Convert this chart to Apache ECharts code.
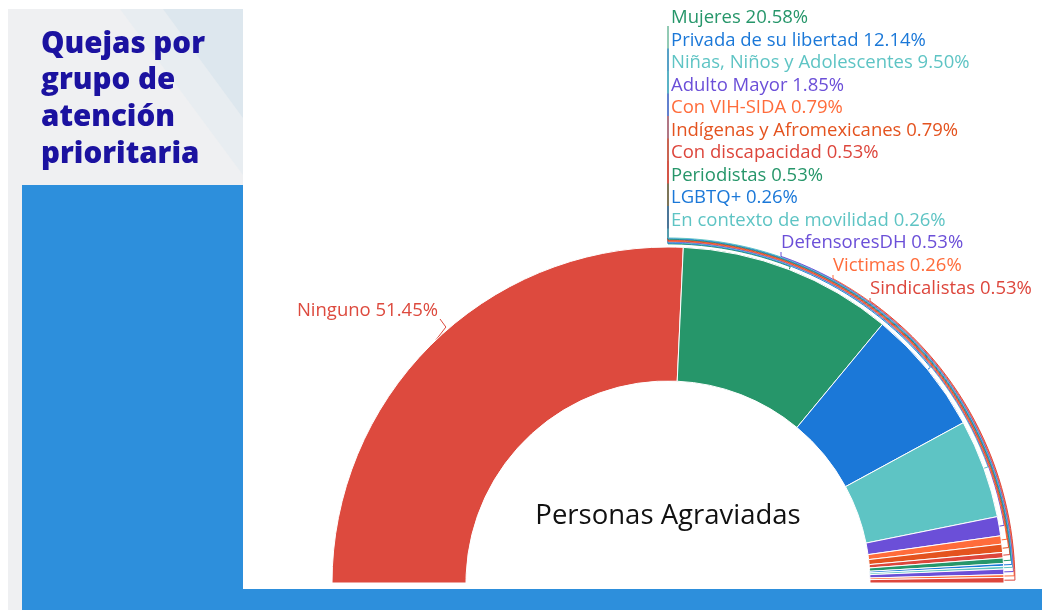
<!DOCTYPE html>
<html>
<head>
<meta charset="utf-8">
<script src="https://cdn.jsdelivr.net/npm/echarts@6/dist/echarts.min.js"></script>
<style>
  html, body { margin: 0; padding: 0; background: #fff; }
  #chart { width: 1042px; height: 610px; }
</style>
</head>
<body>
<div id="chart"></div>
<script>
const categories = [
  'Ninguno', 'Mujeres', 'Privada de su libertad', 'Niñas, Niños y Adolescentes',
  'Adulto Mayor', 'Con VIH-SIDA', 'Indígenas y Afromexicanes', 'Con discapacidad',
  'Periodistas', 'LGBTQ+', 'En contexto de movilidad', 'DefensoresDH',
  'Victimas', 'Sindicalistas'
]
const counts = [195, 78, 46, 36, 7, 3, 3, 2, 2, 1, 1, 2, 1, 2]
const colors = [
  '#dd4a3e', '#26966a', '#1b78d8', '#5ec4c4', '#6b4fd8', '#ff6c3b', '#e4531f',
  '#dd463c', '#26966a', '#1b78d8', '#5ec4c4', '#6b4fd8', '#ff6c3b', '#dd463c'
]
const chartTitle = 'Quejas por\ngrupo de\natención\nprioritaria'
const centerText = 'Personas Agraviadas'

const total = counts.reduce((a, b) => a + b, 0)
const cx = 668, cy = 583, rIn = 202, rOut = 336

// where each label sits (layout only)
const labelSpots = [
  { x: 438, y: 311, align: 'right' },
  { x: 671, y: 18 }, { x: 671, y: 40.5 }, { x: 671, y: 63 }, { x: 671, y: 85.5 },
  { x: 671, y: 108 }, { x: 671, y: 130.5 }, { x: 671, y: 153 }, { x: 671, y: 175.5 },
  { x: 671, y: 198 }, { x: 671, y: 220.5 },
  { x: 781, y: 243 }, { x: 833, y: 266 }, { x: 870, y: 289 }
]

const cum = []
counts.reduce((s, v, i) => { cum[i] = s; return s + v }, 0)
const midAngle = i => Math.PI - (cum[i] + counts[i] / 2) / total * Math.PI
const pt = (a, r) => [cx + r * Math.cos(a), cy - r * Math.sin(a)]

// leader line: out from the slice, along the rim, then up to the label
const leaderLine = i => {
  const a = midAngle(i)
  const spot = labelSpots[i]
  const p0 = pt(a, rOut)
  if (i === 0) return [p0, [p0[0] + 10, p0[1] - 13], [spot.x + 2, spot.y + 8]]
  const rr = rOut + 2.5 + 0.65 * i
  const pts = [p0, pt(a, rr)]
  const aEnd = spot.x <= cx + 4 ? Math.PI / 2 : Math.acos((spot.x - cx) / rr)
  for (let t = a + 0.03; t < aEnd; t += 0.03) pts.push(pt(t, rr))
  pts.push(pt(aEnd, rr))
  if (spot.x <= cx + 4) pts.push([cx, spot.y + 8])
  else pts.push([spot.x, spot.y + 9])
  return pts
}

const pieData = categories.map((name, i) => ({
  name,
  value: counts[i],
  itemStyle: { color: colors[i] },
  label: { color: colors[i] }
}))
// hidden lower half
pieData.push({
  name: '',
  value: total,
  itemStyle: { color: 'none', borderWidth: 0 },
  label: { show: false },
  labelLine: { show: false },
  emphasis: { disabled: true },
  tooltip: { show: false }
})

const chart = echarts.init(document.getElementById('chart'))

chart.setOption({
  animation: false,
  backgroundColor: '#fff',
  graphic: [
    { type: 'rect', z: -10, shape: { x: 8, y: 9, width: 235, height: 601 }, style: { fill: '#eff0f2' } },
    { type: 'polygon', z: -9, shape: { points: [[120, 9], [243, 9], [243, 175]] }, style: { fill: '#e8edf1' } },
    { type: 'polygon', z: -9, shape: { points: [[163, 9], [243, 9], [243, 118]] }, style: { fill: '#dde7ee' } },
    { type: 'rect', z: -8, shape: { x: 22, y: 185, width: 221, height: 425 }, style: { fill: '#2d8fdc' } },
    { type: 'rect', z: -8, shape: { x: 238, y: 589, width: 804, height: 21 }, style: { fill: '#2d8fdc' } },
    {
      type: 'text', x: 41, y: 26, z: 10,
      style: { text: chartTitle, fill: '#1b12a0', font: '800 29.5px "Open Sans"', lineHeight: 36.7 }
    },
    {
      type: 'text', x: cx, y: 516, z: 10,
      style: { text: centerText, fill: '#111', font: '500 27.5px "Open Sans"', align: 'center', verticalAlign: 'middle' }
    }
  ],
  series: [
    {
      type: 'pie',
      center: [cx, cy],
      radius: [rIn, rOut],
      startAngle: 180,
      avoidLabelOverlap: false,
      itemStyle: { borderColor: '#fff', borderWidth: 1 },
      label: {
        show: true,
        position: 'outside',
        fontFamily: '"Open Sans"',
        fontWeight: 500,
        fontSize: 18.5,
        formatter: p => p.name + ' ' + (p.value / total * 100).toFixed(2) + '%'
      },
      labelLine: { show: true, length: 10, length2: 10, lineStyle: { width: 1 } },
      labelLayout: params => {
        const i = params.dataIndex
        if (i >= categories.length) return {}
        const spot = labelSpots[i]
        return {
          x: spot.x,
          y: spot.y,
          align: spot.align || 'left',
          verticalAlign: 'middle',
          labelLinePoints: leaderLine(i)
        }
      },
      data: pieData
    }
  ]
})
</script>
</body>
</html>
